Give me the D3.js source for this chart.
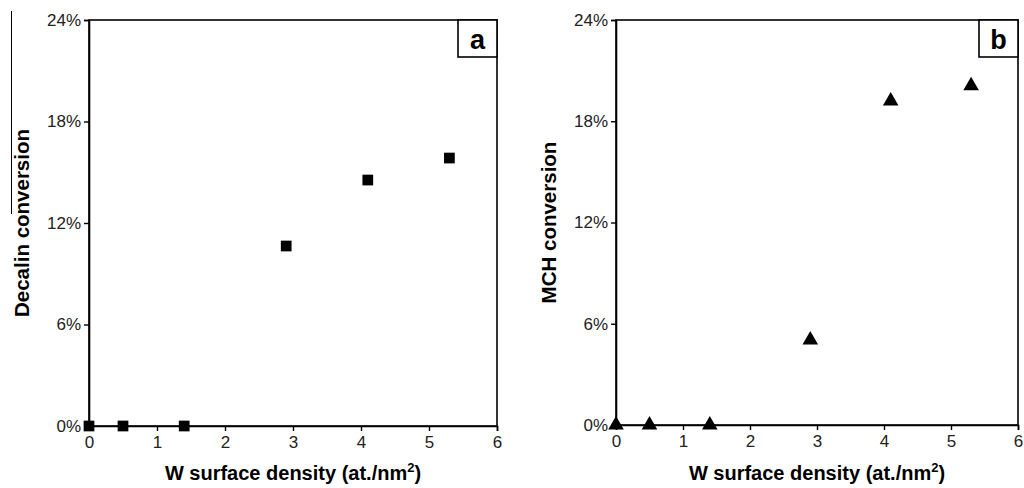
<!DOCTYPE html>
<html><head><meta charset="utf-8">
<script src="https://cdn.jsdelivr.net/npm/d3@7"></script>
<style>body{margin:0;background:#fff}svg{display:block}text{font-family:"Liberation Sans",Arial,sans-serif}</style>
</head><body><svg id="c" width="1024" height="488"></svg>
<script>
const xDensity = [0, 0.5, 1.4, 2.9, 4.1, 5.3];
const decalinConv = [0, 0, 0, 0.1064, 0.1454, 0.1584];
const mchConv = [0, 0, 0, 0.0504, 0.192, 0.201];
const xTicks = [0, 1, 2, 3, 4, 5, 6];
const yTicks = [0, 0.06, 0.12, 0.18, 0.24];
const panels = [
  {label: "a", ytitle: "Decalin conversion", values: decalinConv, marker: "square", x0: 89, x1: 497, y0: 426, y1: 20, ytx: 29},
  {label: "b", ytitle: "MCH conversion", values: mchConv, marker: "triangle", x0: 616, x1: 1018, y0: 425, y1: 20, ytx: 556}
];
const svg = d3.select("#c");
// scan artifact line
svg.append("line").attr("x1", 11.5).attr("x2", 11.5).attr("y1", 11).attr("y2", 214).attr("stroke", "#000").attr("stroke-width", 1);

panels.forEach(p => {
  const x = d3.scaleLinear().domain([0, 6]).range([p.x0, p.x1]);
  const y = d3.scaleLinear().domain([0, 0.24]).range([p.y0, p.y1]);
  const g = svg.append("g");
  g.append("rect").attr("x", p.x0).attr("y", p.y1).attr("width", p.x1 - p.x0).attr("height", p.y0 - p.y1)
    .attr("fill", "none").attr("stroke", "#000").attr("stroke-width", 1.6);
  const xa = g.append("g").attr("transform", `translate(0,${p.y0})`)
    .call(d3.axisBottom(x).tickValues(xTicks).tickSize(5).tickPadding(3).tickFormat(d3.format("d")));
  const ya = g.append("g").attr("transform", `translate(${p.x0},0)`)
    .call(d3.axisLeft(y).tickValues(yTicks).tickSize(5).tickPadding(3).tickFormat(d3.format(".0%")));
  [xa, ya].forEach(a => {
    a.select(".domain").attr("stroke-width", 1.6);
    a.selectAll(".tick line").attr("stroke-width", 1.4);
    a.selectAll("text").style("font-size", "17px").attr("fill", "#222");
  });
  xa.selectAll("text").attr("dy", "0.85em");
  const bw = 39, bh = 37;
  g.append("rect").attr("x", p.x1 - bw).attr("y", p.y1).attr("width", bw).attr("height", bh)
    .attr("fill", "#fff").attr("stroke", "#000").attr("stroke-width", 1.6);
  g.append("text").attr("x", p.x1 - bw / 2).attr("y", p.y1 + 29).attr("text-anchor", "middle")
    .style("font-size", "27px").attr("font-weight", "bold").text(p.label);
  const xt = g.append("text").attr("x", (p.x0 + p.x1) / 2).attr("y", 480).attr("text-anchor", "middle")
    .style("font-size", "20px").attr("font-weight", "bold");
  xt.append("tspan").text("W surface density (at./nm");
  xt.append("tspan").style("font-size", "13px").attr("dy", -8).text("2");
  xt.append("tspan").attr("dy", 8).text(")");
  g.append("text").attr("transform", `translate(${p.ytx},${(p.y0 + p.y1) / 2}) rotate(-90)`)
    .attr("text-anchor", "middle").style("font-size", "20.5px").attr("font-weight", "bold").text(p.ytitle);
  const sym = p.marker === "square" ? d3.symbol().type(d3.symbolSquare).size(115)
                                    : d3.symbol().type(d3.symbolTriangle).size(105);
  g.selectAll("path.m").data(xDensity.map((d, i) => [d, p.values[i]])).enter().append("path")
    .attr("class", "m").attr("d", sym)
    .attr("transform", d => `translate(${x(d[0])},${y(d[1])})`).attr("fill", "#000");
});
</script></body></html>
